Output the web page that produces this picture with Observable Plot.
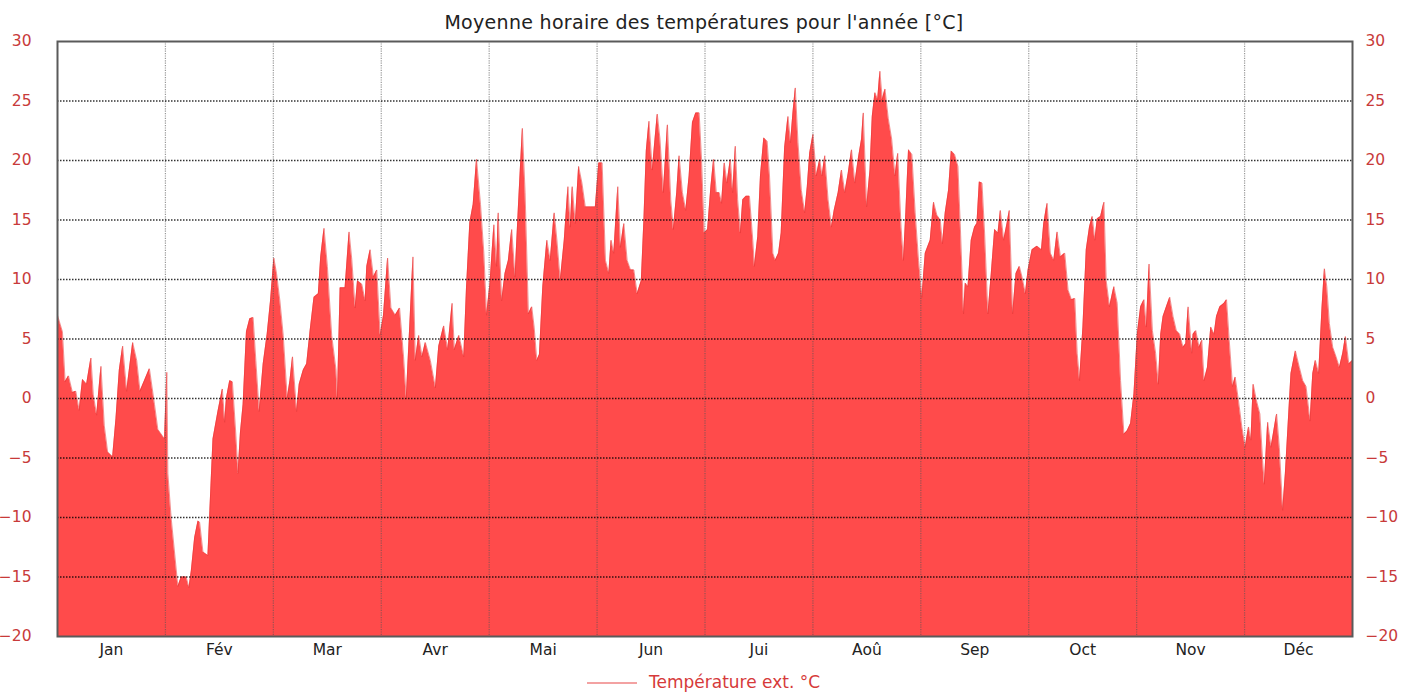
<!DOCTYPE html>
<html>
<head>
<meta charset="utf-8">
<script src="https://cdn.jsdelivr.net/npm/d3@7"></script>
<script src="https://cdn.jsdelivr.net/npm/@observablehq/plot@0.6"></script>
<style>
  html, body { margin: 0; padding: 0; background: #fff; }
  body { width: 1418px; height: 698px; overflow: hidden; font-family: "DejaVu Sans", sans-serif; }
  #title { height: 28px; padding-top: 8px; line-height: 28px; text-align: center; font-size: 19px; letter-spacing: 0.3px; color: #222; }
  #title span { display: inline-block; margin-left: -10px; }
  #legend { height: 32px; line-height: 32px; font-size: 17px; color: #d63a3a; }
  #legend .sw { display: inline-block; width: 50px; height: 0; border-top: 2px solid #f3a2a2; vertical-align: middle; margin-left: 587px; margin-right: 12px; }
  svg { display: block; }
</style>
</head>
<body>
<div id="title"><span>Moyenne horaire des températures pour l'année [°C]</span></div>
<div id="chart"></div>
<div id="legend"><span class="sw"></span>Température ext. °C</div>
<script>
// Month names (tick labels, one per month slot)
const monthNames = ["Jan","Fév","Mar","Avr","Mai","Jun","Jui","Aoû","Sep","Oct","Nov","Déc"];
// Y axis ticks (°C)
const yTicks = [-20,-15,-10,-5,0,5,10,15,20,25,30];
// Position along the year, in months (0 = start of Jan, 12 = end of Déc)
const monthPos = [
  0.000,0.046,0.071,0.102,0.139,0.170,0.201,0.232,0.270,0.310,0.332,0.363,0.403,0.434,0.465,0.511,0.542,0.573,0.604,0.641,0.697,0.734,0.765,0.806,0.852,0.899,0.930,0.992,
  1.013,1.023,1.054,1.116,1.147,1.193,1.218,1.240,1.271,1.302,1.317,1.348,1.394,1.441,1.487,1.528,1.549,1.565,1.596,1.621,1.652,1.673,1.695,1.720,1.751,1.782,1.813,1.838,1.869,1.906,1.943,1.974,
  2.005,2.030,2.061,2.092,2.129,2.154,2.178,2.216,2.240,2.278,2.309,2.340,2.377,2.417,2.439,2.470,2.501,2.541,2.581,2.594,2.619,2.665,2.702,2.727,2.758,2.780,2.820,2.851,2.866,2.897,2.928,2.959,2.990,
  3.021,3.059,3.090,3.130,3.170,3.207,3.232,3.269,3.294,3.316,3.347,3.378,3.409,3.455,3.502,3.533,3.579,3.616,3.657,3.678,3.719,3.765,3.790,3.821,3.852,3.883,3.920,3.951,3.976,
  4.007,4.044,4.069,4.084,4.116,4.147,4.178,4.209,4.240,4.271,4.308,4.333,4.364,4.395,4.417,4.442,4.466,4.497,4.535,4.566,4.603,4.628,4.659,4.696,4.730,4.752,4.770,4.798,4.829,4.860,4.891,4.938,4.984,
  5.016,5.047,5.078,5.109,5.130,5.155,5.192,5.217,5.248,5.279,5.310,5.341,5.372,5.410,5.434,5.456,5.481,5.512,5.534,5.558,5.583,5.614,5.652,5.683,5.707,5.738,5.760,5.791,5.822,5.853,5.884,5.915,5.946,5.968,5.993,
  6.024,6.055,6.080,6.105,6.132,6.154,6.179,6.204,6.235,6.257,6.281,6.303,6.328,6.350,6.381,6.412,6.443,6.458,6.489,6.514,6.545,6.576,6.598,6.629,6.651,6.682,6.706,6.738,6.769,6.793,6.815,6.837,6.862,6.893,6.924,6.948,6.970,
  7.001,7.032,7.063,7.085,7.110,7.141,7.172,7.197,7.234,7.265,7.296,7.327,7.358,7.389,7.420,7.451,7.467,7.498,7.529,7.550,7.575,7.600,7.621,7.643,7.668,7.699,7.730,7.761,7.786,7.817,7.839,7.861,7.886,7.917,7.948,7.979,
  8.010,8.041,8.087,8.118,8.149,8.180,8.201,8.226,8.257,8.282,8.313,8.344,8.365,8.396,8.412,8.437,8.467,8.498,8.520,8.542,8.567,8.591,8.622,8.653,8.684,8.715,8.737,8.768,8.799,8.820,8.851,8.882,8.913,8.938,8.969,8.994,
  9.031,9.077,9.118,9.139,9.170,9.201,9.232,9.263,9.294,9.334,9.365,9.396,9.427,9.449,9.471,9.502,9.533,9.563,9.588,9.613,9.635,9.666,9.697,9.718,9.749,9.789,9.820,9.851,9.882,9.913,9.944,9.975,
  10.006,10.037,10.068,10.090,10.115,10.146,10.176,10.201,10.223,10.245,10.276,10.307,10.337,10.368,10.399,10.430,10.455,10.477,10.511,10.523,10.548,10.579,10.604,10.625,10.656,10.687,10.718,10.740,10.771,10.811,10.833,10.858,10.889,10.913,10.944,10.975,
  11.006,11.037,11.059,11.080,11.111,11.142,11.167,11.183,11.214,11.245,11.266,11.297,11.322,11.353,11.378,11.409,11.430,11.471,11.508,11.539,11.570,11.607,11.632,11.656,11.687,11.718,11.740,11.762,11.786,11.817,11.848,11.879,11.910,11.935,11.966,12.000
];
// Hourly-mean outdoor temperature (°C)
const tempC = [
  7.0,5.6,1.4,1.9,0.5,0.6,-1.0,1.6,1.2,3.4,0.3,-1.4,2.7,-2.3,-4.5,-4.9,-1.7,2.4,4.4,0.6,4.7,3.2,0.6,1.5,2.5,-0.5,-2.6,-3.4,
  2.2,-6.3,-10.1,-15.8,-15.0,-15.0,-15.9,-14.5,-11.7,-10.3,-10.4,-12.9,-13.2,-3.4,-1.1,0.8,-2.0,0.0,1.5,1.4,-2.9,-6.3,-2.9,-0.5,5.6,6.7,6.8,3.2,-1.1,2.9,5.4,8.2,
  11.8,10.5,8.2,5.3,0.0,1.5,3.5,-1.1,1.2,2.4,2.9,5.6,8.5,8.8,11.9,14.3,11.1,5.3,2.4,0.0,9.3,9.3,14.0,11.7,7.6,9.9,9.6,8.2,11.1,12.5,10.2,10.8,5.3,
  7.0,11.8,7.6,7.0,7.6,3.5,0.0,7.0,11.9,3.2,5.3,3.5,4.7,3.2,0.9,4.4,6.1,4.1,8.0,4.1,5.3,3.5,9.3,14.8,16.3,20.1,16.3,12.2,7.0,
  9.6,14.6,11.1,15.6,8.2,10.5,11.6,14.2,10.2,16.1,22.7,17.3,7.1,7.7,6.0,3.2,3.7,9.4,13.3,11.6,15.6,13.3,9.9,13.3,17.8,14.4,17.8,14.7,19.5,18.1,16.1,16.1,16.1,
  19.8,19.8,11.6,10.5,13.3,12.2,17.8,12.7,14.7,11.6,10.8,10.8,8.8,9.9,15.0,20.8,23.3,19.2,21.5,23.9,21.8,17.3,23.0,16.7,14.2,17.3,20.4,17.3,15.8,18.7,23.2,24.0,24.0,20.1,13.9,
  14.2,17.8,20.1,17.3,17.3,16.4,19.8,18.1,20.1,17.3,21.2,16.7,13.9,16.7,17.0,17.0,13.3,11.1,13.6,18.7,21.9,21.6,18.7,12.2,11.6,12.2,13.9,21.1,23.7,21.5,24.0,26.1,21.5,17.5,15.6,17.8,20.6,
  22.2,18.7,20.1,18.7,20.4,16.7,14.4,15.8,17.3,19.2,17.3,18.9,20.9,18.1,20.1,21.8,24.0,16.1,19.2,23.7,25.7,25.1,27.5,25.1,26.0,23.5,21.8,18.7,20.6,14.4,11.6,15.6,20.9,20.5,15.6,11.6,
  8.5,12.2,13.3,16.5,15.4,15.0,13.0,15.6,17.5,20.8,20.5,19.5,14.7,7.1,9.7,9.4,13.3,14.4,14.7,18.2,18.1,13.9,7.1,10.5,14.2,13.9,15.8,13.3,14.7,15.8,7.1,10.5,11.1,10.2,8.8,10.8,
  12.5,12.8,12.5,14.7,16.4,12.2,11.6,14.0,11.9,12.2,9.1,8.3,8.4,3.8,1.5,6.0,12.5,14.4,15.3,13.3,15.1,15.3,16.5,9.9,7.7,9.4,8.0,1.5,-3.0,-2.7,-2.1,0.4,
  5.4,7.7,8.3,6.0,11.3,5.7,3.8,1.2,5.4,6.9,7.7,8.5,6.9,5.7,5.4,4.3,4.6,7.7,3.8,5.4,5.7,4.3,4.9,1.5,2.6,6.0,5.4,6.9,7.7,8.0,8.3,4.9,1.0,1.8,-0.2,-2.4,
  -4.1,-2.4,-3.5,1.2,-0.2,-1.3,-5.2,-7.2,-2.0,-4.1,-3.0,-1.3,-4.1,-9.4,-6.3,-1.3,2.1,4.0,2.6,1.5,1.0,-1.9,2.1,3.2,2.1,7.7,10.9,9.4,6.3,4.3,3.5,2.6,3.8,5.2,2.9,3.2
];

const data = monthPos.map((m, i) => ({m, t: tempC[i]}));
const monthMid = monthNames.map((_, i) => i + 0.5);
const monthEdges = d3.range(1, 12);
const innerTicks = yTicks.filter(v => v > -20 && v < 30);
const tickRed = "#c83a3a";

const chart = Plot.plot({
  width: 1418,
  height: 630,
  marginLeft: 57,
  marginRight: 66,
  marginTop: 5,
  marginBottom: 30,
  style: {fontFamily: "DejaVu Sans, sans-serif", background: "#fff", overflow: "visible"},
  x: {domain: [0, 12]},
  y: {domain: [-20, 30]},
  marks: [
    Plot.areaY(data, {x: "m", y1: () => -20, y2: "t", fill: "#ff4b4b", curve: "linear"}),
    Plot.lineY(data, {x: "m", y: "t", stroke: "#e83a3a", strokeWidth: 0.8, strokeOpacity: 0.7}),
    Plot.ruleX(monthEdges, {stroke: "#555", strokeOpacity: 0.6, strokeDasharray: "1.2,1.2", strokeWidth: 1.2}),
    Plot.ruleY(innerTicks, {stroke: "#000", strokeOpacity: 0.8, strokeDasharray: "1.5,1.5", strokeWidth: 1.5}),
    Plot.axisY(yTicks, {anchor: "left", tickSize: 0, tickPadding: 26, fontSize: 15.5, fill: tickRed, label: null}),
    Plot.axisY(yTicks, {anchor: "right", tickSize: 0, tickPadding: 13, fontSize: 15.5, fill: tickRed, textAnchor: "start", label: null}),
    Plot.axisX(monthMid, {anchor: "bottom", tickSize: 0, tickPadding: 7, fontSize: 15.5, fill: "#222", tickFormat: d => monthNames[Math.floor(d)], label: null}),
    Plot.frame({stroke: "#5a5a5a", strokeWidth: 2})
  ]
});
document.getElementById("chart").appendChild(chart);
</script>
</body>
</html>
